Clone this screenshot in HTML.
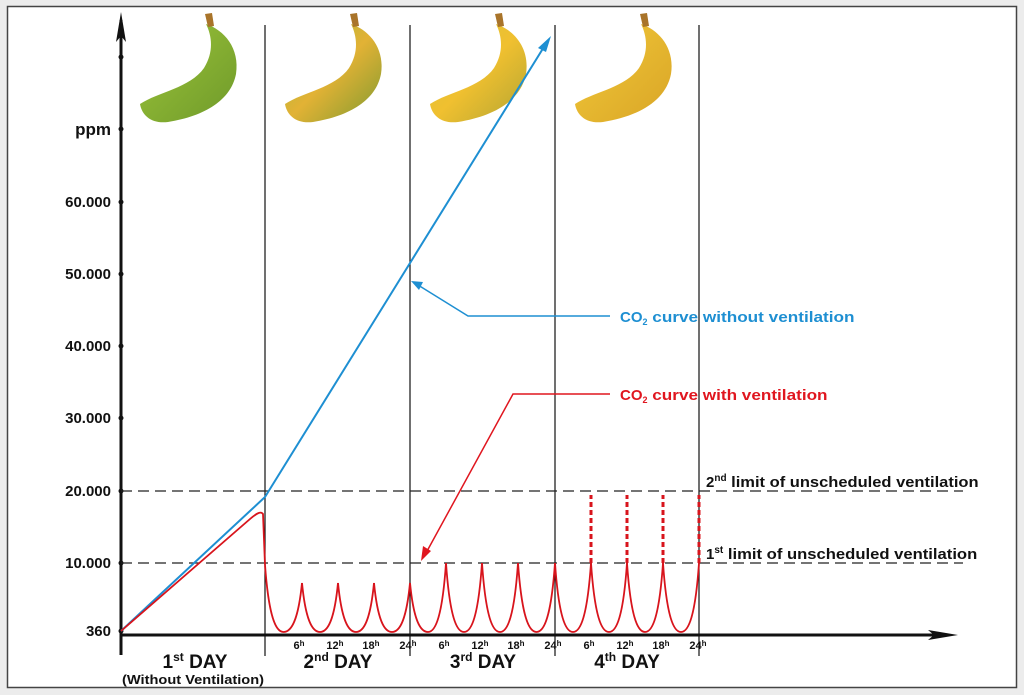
<!DOCTYPE html>
<html><head><meta charset="utf-8"><style>
html,body{margin:0;padding:0;background:#ececec;}
svg{display:block;font-family:"Liberation Sans",Arial,sans-serif;}
</style></head><body>
<svg id="s" width="1024" height="695" viewBox="0 0 1024 695" xmlns="http://www.w3.org/2000/svg">
<defs>
<linearGradient id="g1" x1="0" y1="0" x2="1" y2="1"><stop offset="0" stop-color="#9cc43a"/><stop offset="1" stop-color="#6f9a2a"/></linearGradient>
<linearGradient id="g2" x1="0" y1="0" x2="1" y2="1"><stop offset="0" stop-color="#9cb93a"/><stop offset="0.5" stop-color="#e2b235"/><stop offset="1" stop-color="#7f9a30"/></linearGradient>
<linearGradient id="g3" x1="0" y1="0" x2="1" y2="1"><stop offset="0" stop-color="#d8c43a"/><stop offset="0.5" stop-color="#f0c030"/><stop offset="1" stop-color="#b3a532"/></linearGradient>
<linearGradient id="g4" x1="0" y1="0" x2="1" y2="1"><stop offset="0" stop-color="#f2c93a"/><stop offset="1" stop-color="#d9a526"/></linearGradient>
</defs>
<rect x="7.5" y="6.5" width="1009" height="681" fill="#fff" stroke="#444" stroke-width="1.5"/>
<g id="bananas"></g>
<line x1="121" y1="20" x2="121" y2="655" stroke="#111" stroke-width="3"/>
<polygon points="121,12 116,42 121,36 126,42" fill="#111"/>
<line x1="121" y1="635" x2="945" y2="635" stroke="#111" stroke-width="3"/>
<polygon points="958,635 928,630 934,635 928,640" fill="#111"/>
<g fill="#111"><circle cx="121" cy="57" r="2.5"/><circle cx="121" cy="129" r="2.5"/><circle cx="121" cy="202" r="2.5"/><circle cx="121" cy="274" r="2.5"/><circle cx="121" cy="346" r="2.5"/><circle cx="121" cy="418" r="2.5"/><circle cx="121" cy="491" r="2.5"/><circle cx="121" cy="563" r="2.5"/><circle cx="121" cy="631" r="2.5"/></g>
<g font-size="15" font-weight="bold" text-anchor="end" fill="#111">
<text x="111" y="135" font-size="17">ppm</text>
<text x="111" y="207">60.000</text><text x="111" y="279">50.000</text><text x="111" y="351">40.000</text><text x="111" y="423">30.000</text><text x="111" y="496">20.000</text><text x="111" y="568">10.000</text><text x="111" y="636">360</text>
</g>
<g stroke="#111" stroke-width="1.2"><line x1="265" y1="25" x2="265" y2="656"/><line x1="410" y1="25" x2="410" y2="656"/><line x1="555" y1="25" x2="555" y2="656"/><line x1="699" y1="25" x2="699" y2="656"/></g>
<g stroke="#222" stroke-width="1.3" stroke-dasharray="11,6"><line x1="121" y1="491" x2="963" y2="491"/><line x1="121" y1="563" x2="963" y2="563"/></g>
<g font-size="15" font-weight="bold" fill="#111"><text x="706" y="487">2<tspan font-size="10" dy="-6">nd</tspan><tspan dy="6" textLength="252" lengthAdjust="spacingAndGlyphs"> limit of unscheduled ventilation</tspan></text>
<text x="706" y="559">1<tspan font-size="10" dy="-6">st</tspan><tspan dy="6" textLength="254" lengthAdjust="spacingAndGlyphs"> limit of unscheduled ventilation</tspan></text></g>
<polyline points="121,631 265,497 547,42" fill="none" stroke="#1e8fd2" stroke-width="2"/>
<polygon points="551,36 538,48 546,52" fill="#1e8fd2"/>
<polyline points="610,316 468,316 418,285" fill="none" stroke="#1e8fd2" stroke-width="1.5"/>
<polygon points="411,281 423,282 419,290" fill="#1e8fd2"/>
<text x="620" y="322" font-size="15" font-weight="bold" fill="#1e8fd2">CO<tspan font-size="9" dy="3">2</tspan><tspan dy="-3" textLength="207" lengthAdjust="spacingAndGlyphs"> curve without ventilation</tspan></text>
<polyline points="610,394 513,394 426,553" fill="none" stroke="#e0161f" stroke-width="1.5"/>
<polygon points="421,561 423,546 431,551" fill="#e0161f"/>
<text x="620" y="400" font-size="15" font-weight="bold" fill="#e0161f">CO<tspan font-size="9" dy="3">2</tspan><tspan dy="-3" textLength="180" lengthAdjust="spacingAndGlyphs"> curve with ventilation</tspan></text>
<g id="red" fill="none" stroke="#d8141c" stroke-width="1.8"></g>
<g font-size="11" font-weight="bold" fill="#111" text-anchor="middle" id="hours"></g>
<g font-size="19" font-weight="bold" fill="#111" text-anchor="middle">
<text x="195" y="668">1<tspan font-size="12" dy="-7">st</tspan><tspan dy="7"> DAY</tspan></text>
<text x="338" y="668">2<tspan font-size="12" dy="-7">nd</tspan><tspan dy="7"> DAY</tspan></text>
<text x="483" y="668">3<tspan font-size="12" dy="-7">rd</tspan><tspan dy="7"> DAY</tspan></text>
<text x="627" y="668">4<tspan font-size="12" dy="-7">th</tspan><tspan dy="7"> DAY</tspan></text>
<text x="193" y="684" font-size="13" textLength="142" lengthAdjust="spacingAndGlyphs">(Without Ventilation)</text>
</g>
</svg>
<script>
var NS="http://www.w3.org/2000/svg",red=document.getElementById('red');
function p(d,dash){var e=document.createElementNS(NS,'path');e.setAttribute('d',d);if(dash){e.setAttribute('stroke-dasharray','5,3');e.setAttribute('stroke-width','3');}red.appendChild(e);}
p("M121,631 L250,519 C257,513 261,511 263,514 L265,565",false);
var ymin=632;
function scallop(x0,y0,x1,y1){var w=x1-x0;return "M"+x0+","+y0+" C"+(x0+w*0.1)+","+(y0+(ymin-y0)*0.75)+" "+(x0+w*0.28)+","+ymin+" "+(x0+w/2)+","+ymin+" C"+(x1-w*0.28)+","+ymin+" "+(x1-w*0.1)+","+(y1+(ymin-y1)*0.75)+" "+x1+","+y1;}
p(scallop(265,565,302,583));
var d2=[302,338,374,410];for(var i=0;i<3;i++)p(scallop(d2[i],583,d2[i+1],583));
var d3=[410,446,482,518,555];p(scallop(410,583,446,563));for(i=1;i<4;i++)p(scallop(d3[i],563,d3[i+1],563));
var d4=[555,591,627,663,699];
for(i=0;i<4;i++){var a=d4[i],b=d4[i+1];p(scallop(a,563,b,563));
 p("M"+b+",563 L"+b+",495",true);}
var hg=document.getElementById('hours');
[265,410,555].forEach(function(s){[[36,"6"],[72,"12"],[108,"18"],[145,"24"]].forEach(function(h){var t=document.createElementNS(NS,'text');t.setAttribute('x',s+h[0]-2);t.setAttribute('y',649);t.innerHTML=h[1]+'<tspan font-size="8" dy="-3">h</tspan>';hg.appendChild(t);});});
var bg=document.getElementById('bananas');
var fills=['url(#g1)','url(#g2)','url(#g3)','url(#g4)'];
for(i=0;i<4;i++){var dx=i*145,g=document.createElementNS(NS,'g');g.setAttribute('transform','translate('+dx+',0)');
g.innerHTML='<path d="M206,24 C224,30 240,48 236,74 C231,100 205,116 168,122 C152,124 142,116 140,104 C158,92 190,88 204,68 C214,52 212,36 206,24 Z" fill="'+fills[i]+'"/><path d="M205,14 L212,13 L214,26 L208,27 Z" fill="#a9742a"/>';bg.appendChild(g);}
</script>
</body></html>
